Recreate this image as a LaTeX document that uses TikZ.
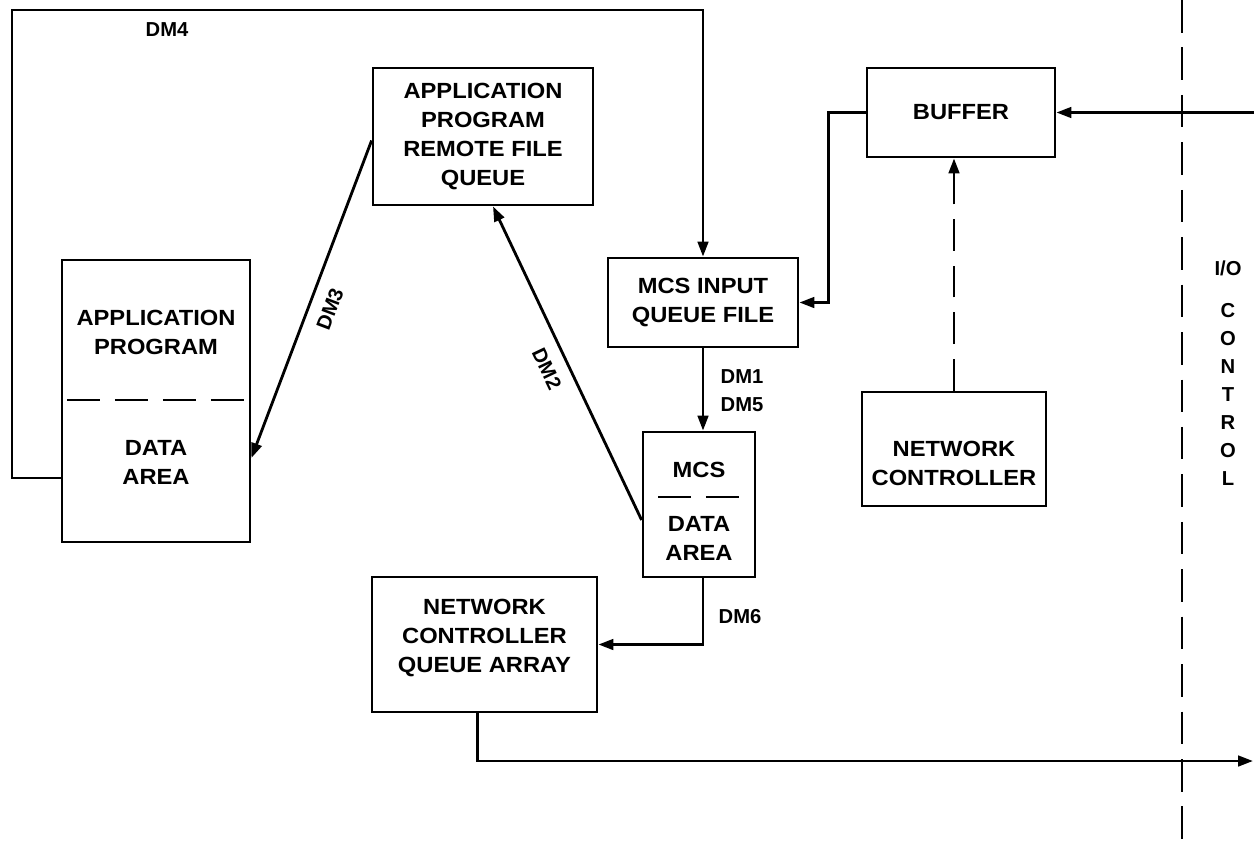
\documentclass[tikz,border=0pt]{standalone}
\usepackage{fontspec}
\setmainfont{Liberation Sans}[FakeStretch=1.08]
\newfontfamily\dmfont{Liberation Sans}
\usetikzlibrary{arrows.meta}
\newcommand\boxtext{\fontsize{12.5}{16.5}\selectfont\bfseries}
\newcommand\dmtext{\dmfont\fontsize{11.5}{16}\selectfont\bfseries}
\begin{document}
\begin{tikzpicture}[x=0.02cm,y=-0.02cm,
  box/.style={draw, line width=1.6pt, inner sep=0pt, align=center, font=\boxtext},
  txt/.style={align=center, inner sep=0pt, font=\boxtext},
  ln/.style={line width=1.6pt},
  arr/.style={ln, -{Triangle[length=8.5pt,width=6pt]}},
  dashline/.style={ln, dash pattern=on 18.8pt off 8.5pt},
  dm/.style={inner sep=0pt, font=\dmtext}]
\fill[white] (0,0) rectangle (1254,846);
\useasboundingbox (0,0) rectangle (1254,846);

% boxes
\node[box, minimum width=3.76cm, minimum height=5.64cm] (ap) at (156,401) {};
\node[txt] (apt) at (156,332) {APPLICATION\\PROGRAM};
\node[txt] (apd) at (156,462) {DATA\\AREA};
\draw[dashline] (67,400) -- (244,400);

\node[box, minimum width=4.4cm, minimum height=2.74cm] (rfq) at (483,136.5) {APPLICATION\\PROGRAM\\REMOTE FILE\\QUEUE};
\node[box, minimum width=3.8cm, minimum height=1.78cm] (miq) at (703,302.5) {MCS INPUT\\QUEUE FILE};

\node[box, minimum width=2.24cm, minimum height=2.9cm] (mcs) at (699,504.5) {};
\node[txt] (mcst) at (699,470) {MCS};
\node[txt] (mcsd) at (699,538) {DATA\\AREA};
\draw[dashline] (658,497) -- (741,497);

\node[box, minimum width=4.5cm, minimum height=2.7cm] (ncq) at (484.5,644.5) {};
\node[txt] (ncqt) at (484.5,638) {NETWORK\\CONTROLLER\\QUEUE ARRAY};

\node[box, minimum width=3.76cm, minimum height=1.78cm] (buf) at (961,112.5) {BUFFER};
\node[box, minimum width=3.68cm, minimum height=2.28cm] (nc) at (954,449) {};
\node[txt] (nct) at (954,463) {NETWORK\\CONTROLLER};

% coordinates
\path (ap.west) ++(0,77) coordinate (apL);
\coordinate (c1) at (12,478);
\coordinate (c2) at (12,10);
\path (ap.east) ++(0,57) coordinate (apR);
\path (rfq.west) ++(0,4) coordinate (rfqW);
\path (mcs.west) ++(0,15.5) coordinate (mcsW);
\path (rfq.south) ++(10,0) coordinate (rfqS);
\path (ncq.south) ++(-7,0) coordinate (ncqS);
\coordinate (out) at (1253,761);
\coordinate (inR) at (1254,112.5);
\coordinate (ioT) at (1182,0);
\coordinate (ioB) at (1182,846);

% connectors
\draw[arr] (apL) -- (c1) -- (c2) -| (miq.north);
\draw[arr] (rfqW) -- (apR);
\draw[arr] (mcsW) -- (rfqS);
\draw[arr] (miq.south) -- (miq.south |- mcs.north);
\draw[arr] (miq.south |- mcs.south) |- (ncq.east);
\draw[arr] (ncqS) |- (out);
\draw[arr] (inR) -- (buf.east);
\draw[arr] (buf.west) -- ++(-37,0) |- (miq.east);
\draw[arr, dash pattern=on 18pt off 8.5pt] (nc.north) -- (nc.north |- buf.south);
\draw[ln, dash pattern=on 18.5pt off 8.5pt] (ioT) -- (ioB);

% labels
\node[dm] (l4) at (167,30) {DM4};
\node[dm, rotate=69.3] (l3) at (330,309) {DM3};
\node[dm, rotate=-64.5] (l2) at (547,369) {DM2};
\node[dm, align=left] (l15) at (742,391) {DM1\\DM5};
\node[dm] (l6) at (740,617) {DM6};
\node[dm] (io) at (1228,268) {I/O};
\node[dm, align=center] (ctl) at (1228,394.5) {C\\O\\N\\T\\R\\O\\L};
\end{tikzpicture}
\end{document}
